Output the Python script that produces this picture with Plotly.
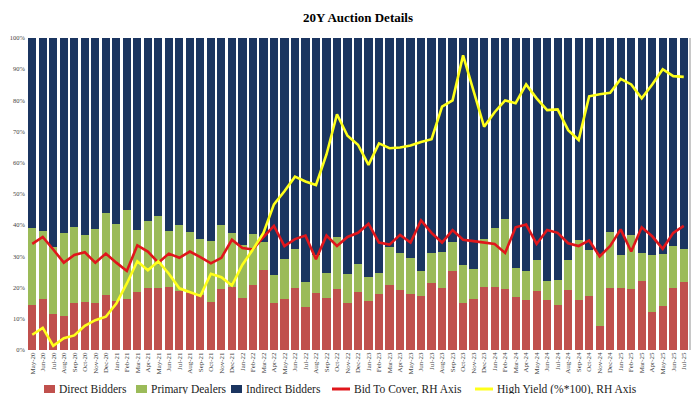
import plotly.graph_objects as go

months = ["May-20","Jun-20","Jul-20","Aug-20","Sep-20","Oct-20","Nov-20","Dec-20",
          "Jan-21","Feb-21","Mar-21","Apr-21","May-21","Jun-21","Jul-21","Aug-21","Sep-21","Oct-21","Nov-21","Dec-21",
          "Jan-22","Feb-22","Mar-22","Apr-22","May-22","Jun-22","Jul-22","Aug-22","Sep-22","Oct-22","Nov-22","Dec-22",
          "Jan-23","Feb-23","Mar-23","Apr-23","May-23","Jun-23","Jul-23","Aug-23","Sep-23","Oct-23","Nov-23","Dec-23",
          "Jan-24","Feb-24","Mar-24","Apr-24","May-24","Jun-24","Jul-24","Aug-24","Sep-24","Oct-24","Nov-24","Dec-24",
          "Jan-25","Feb-25","Mar-25","Apr-25","May-25","Jun-25","Jul-25"]

direct_bidders = [14.5,16.3,11.6,11.0,15.1,15.5,15.1,17.5,
                  15.8,16.5,18.5,19.8,19.8,20.2,18.8,18.3,17.6,15.4,19.5,20.2,
                  16.8,20.7,25.8,15.1,16.2,19.9,13.8,18.3,16.6,19.7,15.2,18.7,
                  15.6,17.8,20.9,19.1,17.8,17.3,21.5,19.9,25.2,15.0,16.3,20.3,
                  20.2,19.5,17.0,16.1,19.0,16.1,14.3,19.2,16.1,17.3,7.8,20.0,
                  20.0,19.6,22.2,12.1,14.0,19.8,21.8]

direct_plus_primary = [39.1,38.2,33.1,37.5,39.3,37.0,38.8,43.8,
                       40.4,45.0,38.6,41.3,43.0,38.1,40.0,37.8,35.7,35.0,40.0,37.5,
                       33.8,37.1,34.5,23.9,29.2,32.4,21.9,30.5,24.7,36.2,24.5,27.7,
                       23.5,24.6,33.0,31.1,29.4,25.3,31.2,31.5,34.5,27.1,26.0,35.5,
                       39.0,42.0,26.4,25.3,29.0,22.0,22.5,28.8,35.2,32.0,30.9,37.8,
                       30.4,36.9,31.1,30.5,30.9,33.2,32.4]

primary_dealers = [round(t - d, 1) for t, d in zip(direct_plus_primary, direct_bidders)]
indirect_bidders = [round(100 - t, 1) for t in direct_plus_primary]

bid_to_cover = [2.53,2.63,2.45,2.26,2.37,2.41,2.26,2.39,
                2.26,2.14,2.51,2.42,2.26,2.39,2.33,2.42,2.34,2.25,2.33,2.59,
                2.47,2.45,2.63,2.79,2.50,2.60,2.65,2.31,2.65,2.50,2.63,2.69,
                2.82,2.55,2.52,2.66,2.55,2.87,2.69,2.55,2.73,2.59,2.57,2.55,
                2.53,2.40,2.77,2.81,2.53,2.73,2.69,2.54,2.50,2.58,2.35,2.50,
                2.74,2.42,2.77,2.64,2.46,2.69,2.79]

high_yield = [1.22,1.32,1.06,1.17,1.21,1.35,1.43,1.48,
              1.67,1.96,2.28,2.15,2.28,2.10,1.89,1.83,1.78,2.10,2.05,1.93,
              2.23,2.45,2.69,3.10,3.29,3.50,3.43,3.38,3.82,4.40,4.09,3.96,
              3.67,3.98,3.91,3.92,3.95,4.00,4.04,4.51,4.60,5.25,4.73,4.22,
              4.43,4.60,4.56,4.83,4.63,4.46,4.47,4.17,4.03,4.66,4.69,4.71,
              4.91,4.83,4.63,4.83,5.05,4.95,4.94]

series_names = ["Direct Bidders", "Primary Dealers", "Indirect Bidders",
                "Bid To Cover, RH Axis", "High Yield (%*100), RH Axis"]

left_ticks = list(range(0, 101, 10))
left_tick_text = [f"{v}%" for v in left_ticks]
right_ticks = [1.0,1.5,2.0,2.5,3.0,3.5,4.0,4.5,5.0,5.5]
right_tick_text = [f"{v:.1f}" for v in right_ticks]

# ---- styling / layout constants ----
W, H = 700, 394
L, R, T, B = 19, 19, 30, 52
serif = "Liberation Serif, Times New Roman, serif"
colors = ["#C0504D", "#9BBB59", "#1B3560", "#E0161B", "#FFFF1A"]

def px_x(px):
    return (px - L) / (W - L - R)

def px_y(py):
    return (H - B - py) / (H - T - B)

fig = go.Figure()
for vals, name, col in zip([direct_bidders, primary_dealers, indirect_bidders], series_names[:3], colors[:3]):
    fig.add_trace(go.Bar(x=months, y=vals, name=name, marker_color=col, marker_line_width=0))
fig.add_trace(go.Scatter(x=months, y=bid_to_cover, name=series_names[3], yaxis="y2",
                         mode="lines", line=dict(color=colors[3], width=2.6)))
fig.add_trace(go.Scatter(x=months, y=high_yield, name=series_names[4], yaxis="y2",
                         mode="lines", line=dict(color=colors[4], width=2.6)))

fig.update_layout(
    width=W, height=H,
    margin=dict(l=L, r=R, t=T, b=B),
    paper_bgcolor="white", plot_bgcolor="white",
    barmode="stack", bargap=0.22,
    showlegend=False,
    title=dict(text="<b>20Y Auction Details</b>", x=0.5, xanchor="center", y=1 - 5 / H, yanchor="top",
               font=dict(family=serif, size=13, color="black")),
    font=dict(family=serif, color="#333333"),
    xaxis=dict(type="category", tickangle=-90, tickfont=dict(size=7, family=serif, color="#444444"),
               showgrid=False, showline=False, ticks="", automargin=False),
    yaxis=dict(range=[0, 100], tickvals=left_ticks, ticktext=left_tick_text, showgrid=False,
               zeroline=False, ticks="", ticklen=0, tickfont=dict(size=6.5, family=serif, color="#444444"),
               ticklabelstandoff=1, automargin=False),
    yaxis2=dict(overlaying="y", side="right", range=[1, 5.5], tickvals=right_ticks, ticktext=right_tick_text,
                showgrid=False, zeroline=False, showline=True, linecolor="#C8C8C8", linewidth=2,
                ticks="", ticklen=0, tickfont=dict(size=6.5, family=serif, color="#444444"),
                ticklabelstandoff=1, automargin=False),
)

# manual legend (one row, like the reference)
legend_y = 381
swatch_x = [36, 128, 223, 324, 467]
for i, (name, col, sx) in enumerate(zip(series_names, colors, swatch_x)):
    if i < 3:
        fig.add_shape(type="rect", xref="paper", yref="paper",
                      x0=px_x(sx), x1=px_x(sx + 11), y0=px_y(legend_y + 4), y1=px_y(legend_y - 4),
                      fillcolor=col, line=dict(width=0))
        tx = sx + 13
    else:
        fig.add_shape(type="line", xref="paper", yref="paper",
                      x0=px_x(sx), x1=px_x(sx + 18), y0=px_y(legend_y), y1=px_y(legend_y),
                      line=dict(color=col, width=3))
        tx = sx + 20
    fig.add_annotation(text=name, xref="paper", yref="paper", x=px_x(tx), y=px_y(legend_y),
                       xanchor="left", yanchor="middle", showarrow=False,
                       font=dict(family=serif, size=11.5, color="#222222"))

fig.add_shape(type="line", xref="paper", yref="paper", x0=px_x(0), x1=px_x(W), y0=px_y(392), y1=px_y(392),
              line=dict(color="#C8C8C8", width=3))

fig.write_html("out.html")
